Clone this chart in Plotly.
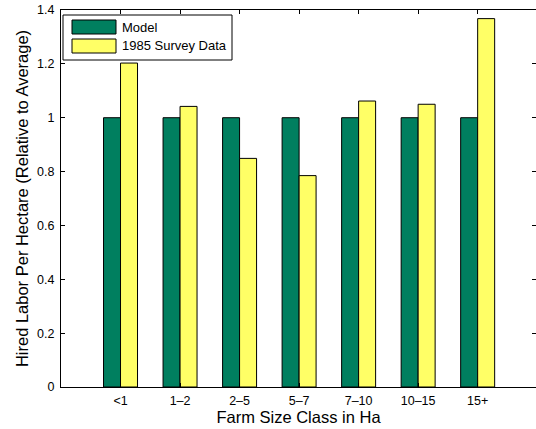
import plotly.graph_objects as go

categories = ["<1", "1\u20132", "2\u20135", "5\u20137", "7\u201310", "10\u201315", "15+"]
model_values = [1.0, 1.0, 1.0, 1.0, 1.0, 1.0, 1.0]
survey_values = [1.203, 1.042, 0.849, 0.785, 1.062, 1.050, 1.368]
series_names = ["Model", "1985 Survey Data"]
y_ticks = [0, 0.2, 0.4, 0.6, 0.8, 1.0, 1.2, 1.4]
y_tick_labels = ["0", "0.2", "0.4", "0.6", "0.8", "1", "1.2", "1.4"]

GREEN = "rgb(0,127,95)"
YELLOW = "rgb(255,255,102)"
FONT = "Liberation Sans, Arial, sans-serif"

fig = go.Figure()
fig.add_trace(go.Bar(x=categories, y=model_values, name=series_names[0],
                     marker=dict(color=GREEN, line=dict(color="black", width=1)),
                     showlegend=False))
fig.add_trace(go.Bar(x=categories, y=survey_values, name=series_names[1],
                     marker=dict(color=YELLOW, line=dict(color="black", width=1)),
                     showlegend=False))

L, R, T, B = 61, 0, 10, 42
W, H = 536, 429
pw, ph = W - L - R, H - T - B

def px(x):
    return (x - L) / pw

def py(y):
    return (H - B - y) / ph

shapes = [
    dict(type="rect", xref="paper", yref="paper", x0=px(63), x1=px(232), y0=py(60), y1=py(15),
         line=dict(color="black", width=1), fillcolor="white", layer="above"),
    dict(type="rect", xref="paper", yref="paper", x0=px(72), x1=px(116), y0=py(34), y1=py(20),
         line=dict(color="black", width=1), fillcolor=GREEN, layer="above"),
    dict(type="rect", xref="paper", yref="paper", x0=px(72), x1=px(116), y0=py(53), y1=py(39),
         line=dict(color="black", width=1), fillcolor=YELLOW, layer="above"),
]
annotations = [
    dict(xref="paper", yref="paper", x=px(120), y=py(27), text=series_names[0], showarrow=False,
         xanchor="left", yanchor="middle", font=dict(family=FONT, size=13, color="black")),
    dict(xref="paper", yref="paper", x=px(120), y=py(46), text=series_names[1], showarrow=False,
         xanchor="left", yanchor="middle", font=dict(family=FONT, size=13, color="black")),
]

fig.update_layout(
    width=W, height=H,
    margin=dict(l=L, r=R, t=T, b=B, pad=0, autoexpand=False),
    paper_bgcolor="white", plot_bgcolor="white",
    barmode="group", bargap=0.429, bargroupgap=0,
    font=dict(family=FONT, size=12, color="black"),
    shapes=shapes, annotations=annotations,
    xaxis=dict(range=[-1, 6.98], showline=True, linecolor="black", linewidth=1, mirror="ticks",
               ticks="inside", ticklen=4, tickcolor="black", showgrid=False, zeroline=False,
               automargin=False, ticklabelstandoff=2,
               tickfont=dict(family=FONT, size=12.5),
               title=dict(text="Farm Size Class in Ha", font=dict(family=FONT, size=16.5), standoff=3)),
    yaxis=dict(range=[0, 1.4], tickvals=y_ticks, ticktext=y_tick_labels,
               showline=True, linecolor="black", linewidth=1, mirror="ticks",
               ticks="inside", ticklen=4, tickcolor="black", showgrid=False, zeroline=False,
               automargin=False, ticklabelstandoff=3,
               tickfont=dict(family=FONT, size=12.5),
               title=dict(text="Hired Labor Per Hectare (Relative to Average)",
                          font=dict(family=FONT, size=16.5), standoff=4)),
)

fig.write_html("out.html",
               config={"displayModeBar": False, "responsive": False},
               post_script="document.body.style.margin='0';document.body.style.overflow='hidden';")
